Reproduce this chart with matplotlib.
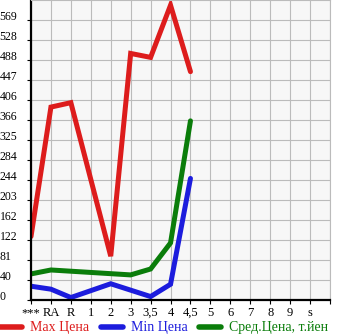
import matplotlib
matplotlib.use("Agg")
import matplotlib.pyplot as plt

plt.rcParams['font.family'] = ['Liberation Serif', 'DejaVu Serif']

# categories on the x axis (last slot is empty)
grades = ['***', 'RA', 'R', '1', '2', '3', '3,5', '4', '4,5', '5', '6', '7', '8', '9', 's']

# prices, only where a series has a point
max_x = [0, 1, 2, 4, 5, 6, 7, 8]
max_price = [129, 392, 401, 89, 501, 493, 599, 464]

min_x = [0, 1, 2, 4, 6, 7, 8]
min_price = [28, 22, 5, 33, 7, 32, 247]

avg_x = [0, 1, 5, 6, 7, 8]
avg_price = [53, 61, 51, 63, 116, 364]

ytick_vals = [0, 40, 81, 122, 162, 203, 244, 284, 325, 366, 406, 447, 488, 528, 569]
ystep = 40.64

fig = plt.figure(figsize=(3.45, 3.35), dpi=100)
ax = fig.add_axes([31 / 345, 1 - 300 / 335, 299 / 345, 300 / 335])
ax.set_facecolor('#f7f7f7')

ax.plot(max_x, max_price, color='#dd1c1c', lw=3.6, solid_capstyle='round',
        solid_joinstyle='miter', label='Max Цена')
ax.plot(min_x, min_price, color='#1c1cdd', lw=3.6, solid_capstyle='round',
        solid_joinstyle='miter', label='Min Цена')
ax.plot(avg_x, avg_price, color='#0a7d0a', lw=3.6, solid_capstyle='round',
        solid_joinstyle='miter', label='Сред.Цена, т.йен')

ax.set_xlim(0, len(grades))
ax.set_ylim(0, ystep * 15)
ax.set_xticks(range(len(grades) + 1))
ax.set_xticklabels(grades + [''])
ax.set_yticks([ystep * i for i in range(len(ytick_vals))])
ax.set_yticklabels([str(v) for v in ytick_vals])

ax.grid(True, color='#bbbbbb', lw=0.8)
ax.set_axisbelow(True)
for s in ['top', 'right']:
    ax.spines[s].set_color('#bbbbbb')
    ax.spines[s].set_linewidth(0.8)
for s in ['left', 'bottom']:
    ax.spines[s].set_color('black')
    ax.spines[s].set_linewidth(1.6)

ax.tick_params(axis='y', length=3, width=0.8, pad=19.5, labelsize=8.5)
ax.tick_params(axis='x', length=3, width=0.8, pad=2, labelsize=9)
for lab in ax.get_yticklabels():
    lab.set_horizontalalignment('left')
    lab.set_verticalalignment('baseline')

leg = fig.legend(loc='center left', bbox_to_anchor=(0.0, 1 - 328 / 335), ncol=3,
                 frameon=False, fontsize=10, handlelength=1.6, handletextpad=0.55,
                 columnspacing=0.85, borderpad=0, borderaxespad=0, labelcolor='linecolor')
for h in leg.legend_handles:
    h.set_linewidth(4)

fig.savefig('out.png', dpi=100)
